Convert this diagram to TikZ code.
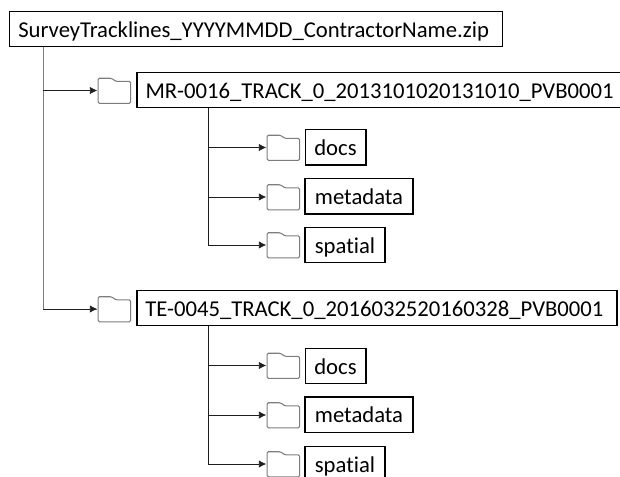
\documentclass[tikz,border=0pt]{standalone}
\usepackage{fontspec}
\setmainfont{Carlito}[RawFeature={-liga}]
\usetikzlibrary{arrows.meta,positioning}
\definecolor{fdgray}{RGB}{125,125,125}
\definecolor{fdline}{RGB}{30,30,30}
\tikzstyle{namebox} = [rectangle, draw=black, fill=white, line width=1pt, inner sep=0pt, minimum height=26.5pt, text height=14.7pt, text depth=2pt, font=\fontsize{17pt}{20pt}\selectfont]
\tikzstyle{folder} = [rectangle, inner sep=0pt, minimum width=25.5pt, minimum height=20pt,
  path picture={\draw[fdgray, thick, rounded corners=1pt] (path picture bounding box.south west) ++(.4pt,.4pt) -- ++(0,18.8pt) -- ++(10pt,0) -- ++(3.5pt,-2.4pt) -- ++(11pt,0) -- ++(0,-16.4pt) -- cycle;}]
\tikzstyle{arrow} = [-{Latex[length=5.5pt,width=5.5pt]},color=fdline,line width=.6pt]
\tikzstyle{trunk} = [color=fdline,line width=.6pt]
\begin{document}
\begin{tikzpicture}[x=.75pt, y=-.75pt]
\useasboundingbox (0,0) rectangle (620,477);
\clip (0,0) rectangle (620,477);
\node (root) [namebox, minimum width=369.5pt] at (256,29) {SurveyTracklines\_YYYYMMDD\_ContractorName.zip\hspace*{3.5pt}};

% first track
\node (mr) [namebox, minimum width=364pt] at (379.5,90) {MR-0016\_TRACK\_0\_2013101020131010\_PVB0001};
\node (mrf) [folder] at (114.5,90.5) {};
\node (mrdocs) [namebox, minimum width=45.5pt] at (335.5,147.5) {docs};
\node (mrmeta) [namebox, minimum width=81pt] at (359,196.5) {metadata};
\node (mrspat) [namebox, minimum width=60pt] at (345,245) {spatial};
\node (mrdocsf) [folder] at (283.5,147.5) {};
\node (mrmetaf) [folder] at (283.5,197) {};
\node (mrspatf) [folder] at (283.5,245) {};

% second track
\node (te) [namebox, minimum width=360pt] at (377,308) {TE-0045\_TRACK\_0\_2016032520160328\_PVB0001\hspace*{4pt}};
\node (tef) [folder] at (114.5,309) {};
\node (tedocs) [namebox, minimum width=45.5pt] at (335.5,366) {docs};
\node (temeta) [namebox, minimum width=81pt] at (359,414.5) {metadata};
\node (tespat) [namebox, minimum width=60pt] at (345,464) {spatial};
\node (tedocsf) [folder] at (283.5,365.5) {};
\node (temetaf) [folder] at (283.5,415) {};
\node (tespatf) [folder] at (283.5,464) {};

\coordinate (roota) at (43,47);
\coordinate (mra) at (208,108);
\coordinate (tea) at (208,326);

\draw[trunk, fdgray] (roota) -- (roota |- tef.west) -- (tef.west);
\draw[arrow] (roota |- mrf.west) -- (mrf.west);
\draw[arrow] (roota |- tef.west) -- (tef.west);

\draw[trunk] (mra) -- (mra |- mrspatf.west);
\draw[arrow] (mra |- mrdocsf.west) -- (mrdocsf.west);
\draw[arrow] (mra |- mrmetaf.west) -- (mrmetaf.west);
\draw[arrow] (mra |- mrspatf.west) -- (mrspatf.west);

\draw[trunk] (tea) -- (tea |- tespatf.west);
\draw[arrow] (tea |- tedocsf.west) -- (tedocsf.west);
\draw[arrow] (tea |- temetaf.west) -- (temetaf.west);
\draw[arrow] (tea |- tespatf.west) -- (tespatf.west);
\end{tikzpicture}
\end{document}
